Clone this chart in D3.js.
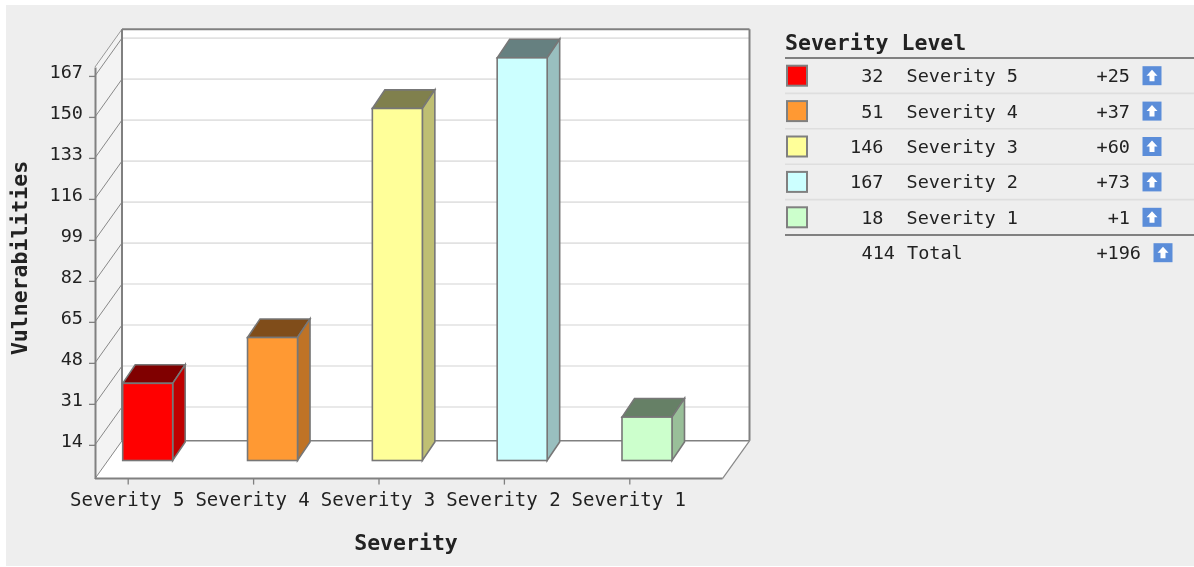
<!DOCTYPE html>
<html><head><meta charset="utf-8">
<script src="https://cdn.jsdelivr.net/npm/d3@7"></script>
<style>
html,body{margin:0;padding:0;background:#fff;overflow:hidden}
svg{display:block;filter:blur(0.45px)}
text{font-family:"DejaVu Sans Mono",monospace;fill:#222}
</style></head><body><div id="chart"></div>
<script>
const categories=["Severity 5","Severity 4","Severity 3","Severity 2","Severity 1"];
const values=[32,51,146,167,18];
const deltas=[25,37,60,73,1];
const fills=["#ff0000","#ff9933","#ffff99","#ccffff","#ccffcc"];
const yTicks=[14,31,48,65,82,99,116,133,150,167];
const total=414, totalDelta=196;

const W=1194,H=567;
const svg=d3.select("#chart").append("svg").attr("width",W).attr("height",H);
svg.append("rect").attr("x",6).attr("y",5).attr("width",W-6).attr("height",H-6).attr("fill","#eeeeee");

const depthX=27, depthY=37.8, barDX=12.5, barDY=18.6, barW=50, barFrontDY=18.1;
const y=d3.scaleLinear().domain([0,170.7]).range([478.6,67]);
const x=d3.scalePoint().domain(categories).range([127.7,629.3]);
const xBar=d3.scalePoint().domain(categories).range([122.7,622]);
const left=95,right=722.5;
const line="#808080";
const g=svg.append("g");

// walls
g.append("polygon").attr("points",[[left,y(170.7)],[left+depthX,y(170.7)-depthY],[left+depthX,y(0)-depthY],[left,y(0)]].join(" ")).attr("fill","#f3f3f3");
g.append("rect").attr("x",left+depthX).attr("y",y(170.7)-depthY).attr("width",right-left).attr("height",y(0)-y(170.7)).attr("fill","#fff");
g.append("polygon").attr("points",[[left,y(0)],[left+depthX,y(0)-depthY],[right+depthX,y(0)-depthY],[right,y(0)]].join(" ")).attr("fill","#fff");

// gridlines
yTicks.forEach(t=>{
  g.append("line").attr("x1",left+depthX).attr("x2",right+depthX).attr("y1",y(t)-depthY).attr("y2",y(t)-depthY).attr("stroke","#e2e2e2").attr("stroke-width",1.6);
  g.append("line").attr("x1",left).attr("x2",left+depthX).attr("y1",y(t)).attr("y2",y(t)-depthY).attr("stroke","#888").attr("stroke-width",1);
});
// frame
const seg=(a,b,w,c)=>g.append("line").attr("x1",a[0]).attr("y1",a[1]).attr("x2",b[0]).attr("y2",b[1]).attr("stroke",c||line).attr("stroke-width",w);
seg([left,y(170.7)],[left+depthX,y(170.7)-depthY],1,"#999");
seg([left,y(0)],[left+depthX,y(0)-depthY],1,"#888");
seg([right,y(0)],[right+depthX,y(0)-depthY],1.2,"#888");
seg([left+depthX,y(170.7)-depthY],[right+depthX,y(170.7)-depthY],2);
seg([left+depthX,y(170.7)-depthY],[left+depthX,y(0)-depthY],2);
seg([right+depthX,y(170.7)-depthY],[right+depthX,y(0)-depthY],2);
seg([left+depthX,y(0)-depthY],[right+depthX,y(0)-depthY],1.6);

// axes
const yAxis=g.append("g").attr("transform",`translate(${left},0)`).call(d3.axisLeft(y).tickValues(yTicks).tickSize(6).tickPadding(6).tickSizeOuter(0));
const xAxis=g.append("g").attr("transform",`translate(0,${y(0)})`).call(d3.axisBottom(x).tickSize(6).tickPadding(8).tickSizeOuter(0));
xAxis.select(".domain").attr("d",`M${left},0H${right}`);
[yAxis,xAxis].forEach(a=>{
  a.selectAll(".domain").attr("stroke",line).attr("stroke-width",2);
  a.selectAll(".tick line").attr("stroke",line).attr("stroke-width",1.3);
  a.selectAll("text").attr("font-size",19).attr("font-family",'"DejaVu Sans Mono",monospace').attr("fill","#222");
});
yAxis.selectAll("text").attr("font-size",18.5).attr("dy","0.30em").attr("y",-3.5);
xAxis.selectAll("text").attr("dy","0.71em").attr("dx",-1);

// bars
const baseY=y(0)-barFrontDY;
const h=v=>y(0)-y(v);
const dark=(c,k)=>{const r=d3.rgb(c);return d3.rgb(r.r*k,r.g*k,r.b*k).formatHex();};
categories.forEach((c,i)=>{
  const x0=xBar(c), top=baseY-h(values[i]), f=fills[i];
  const bar=g.append("g").attr("stroke","#777").attr("stroke-width",1.6).attr("stroke-linejoin","miter");
  bar.append("polygon").attr("points",[[x0,top],[x0+barDX,top-barDY],[x0+barW+barDX,top-barDY],[x0+barW,top]].join(" ")).attr("fill",dark(f,0.5));
  bar.append("polygon").attr("points",[[x0+barW,top],[x0+barW+barDX,top-barDY],[x0+barW+barDX,baseY-barDY],[x0+barW,baseY]].join(" ")).attr("fill",dark(f,0.75));
  bar.append("rect").attr("x",x0).attr("y",top).attr("width",barW).attr("height",baseY-top).attr("fill",f);
});

// axis titles
svg.append("text").attr("x",406).attr("y",550).attr("text-anchor","middle").attr("font-size",21.5).attr("font-weight","bold").attr("fill","#111").text("Severity");
svg.append("text").attr("transform","translate(27,258) rotate(-90)").attr("text-anchor","middle").attr("font-size",21.5).attr("font-weight","bold").attr("fill","#111").text("Vulnerabilities");

// legend
const lx=785, rowY=d3.scaleLinear().domain([0,1]).range([58,93.4]);
const leg=svg.append("g");
leg.append("text").attr("x",lx).attr("y",50).attr("font-size",21.5).attr("font-weight","bold").attr("fill","#111").text("Severity Level");
const hline=(yy,c,w)=>leg.append("line").attr("x1",lx).attr("x2",W).attr("y1",yy).attr("y2",yy).attr("stroke",c).attr("stroke-width",w);
hline(rowY(0),"#808080",2);
const arrow=(ax,ay)=>{
  const a=leg.append("g").attr("transform",`translate(${ax},${ay})`);
  a.append("rect").attr("width",19).attr("height",19).attr("fill","#5b8dd9");
  a.append("path").attr("d","M9.5,3.5L15,9.5H12V15H7V9.5H4Z").attr("fill","#fff");
};
const legendText=(xp,yy,t,anchor)=>leg.append("text").attr("x",xp).attr("y",yy).attr("text-anchor",anchor).attr("font-size",18.5).text(t);
categories.forEach((c,i)=>{
  const top=rowY(i), mid=top+17.7, base=mid+6.5;
  if(i<4) hline(rowY(i+1),"#dedede",1.6);
  leg.append("rect").attr("x",lx+2).attr("y",mid-10).attr("width",20).attr("height",20).attr("fill",fills[i]).attr("stroke","#808080").attr("stroke-width",2);
  legendText(883.5,base,values[i],"end");
  legendText(906.5,base,c,"start");
  legendText(1130,base,"+"+deltas[i],"end");
  arrow(1142.5,mid-9.5);
});
hline(rowY(5),"#808080",2);
const tb=rowY(5)+17.7+6.5;
legendText(895,tb,total,"end");
legendText(907,tb,"Total","start");
legendText(1141,tb,"+"+totalDelta,"end");
arrow(1153.5,rowY(5)+8.2);
</script></body></html>
